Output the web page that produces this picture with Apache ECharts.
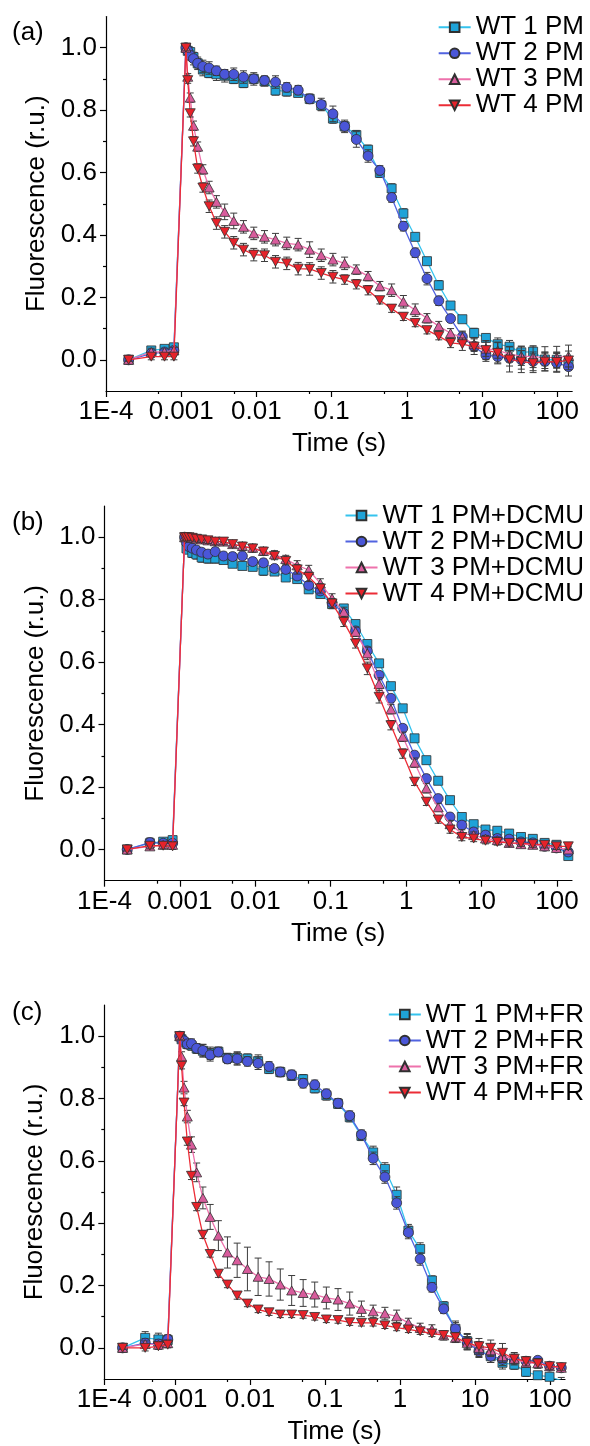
<!DOCTYPE html>
<html><head><meta charset="utf-8">
<script src="https://cdn.jsdelivr.net/npm/echarts@6/dist/echarts.min.js"></script>
<style>html,body{margin:0;padding:0;background:#fff}#c{width:590px;height:1446px}</style>
</head><body><div id="c"></div>
<script>
// ---------- data ----------
const TIME = [0.0002, 0.0004, 0.0006, 0.0008,
  0.001155, 0.001222, 0.001319, 0.001458, 0.001657, 0.001943, 0.002353, 0.002942, 0.003787, 0.004999,
  0.006739, 0.009236, 0.01282, 0.01796, 0.02534, 0.03592, 0.05111, 0.07291, 0.1042, 0.1491,
  0.2135, 0.3059, 0.4386, 0.629, 0.902, 1.294, 1.857, 2.664, 3.822, 5.484,
  7.87, 11.29, 16.2, 23.25, 33.37, 47.88, 68.71, 98.6, 141.5];

const X_TICKS = [1e-4, 1e-3, 0.01, 0.1, 1, 10, 100];
const X_MINOR = [5e-4, 5e-3, 0.05, 0.5, 5, 50];
const Y_TICKS = [0, 0.2, 0.4, 0.6, 0.8, 1.0];
const Y_MINOR = [0.1, 0.3, 0.5, 0.7, 0.9];
const PANEL_LABELS = ['(a)', '(b)', '(c)'];
const X_TITLE = 'Time (s)';
const Y_TITLE = 'Fluorescence (r.u.)';

const NAMES_A = ['WT 1 PM', 'WT 2 PM', 'WT 3 PM', 'WT 4 PM'];
const NAMES_B = ['WT 1 PM+DCMU', 'WT 2 PM+DCMU', 'WT 3 PM+DCMU', 'WT 4 PM+DCMU'];
const NAMES_C = ['WT 1 PM+FR', 'WT 2 PM+FR', 'WT 3 PM+FR', 'WT 4 PM+FR'];

// panel (a)
const A_WT1 = [0, 0.03, 0.035, 0.04,
  1.0, 0.99, 0.986, 0.97, 0.95, 0.93, 0.919, 0.915, 0.91, 0.9, 0.887, 0.9, 0.892, 0.863, 0.86, 0.855, 0.836, 0.815, 0.773, 0.748,
  0.72, 0.673, 0.599, 0.549, 0.469, 0.394, 0.316, 0.239, 0.174, 0.13, 0.086, 0.07, 0.05, 0.042, 0.024, 0.026, 0.001, 0.0, -0.01];
const A_WT2 = [0, 0.02, 0.025, 0.03,
  1.0, 0.99, 0.975, 0.965, 0.95, 0.94, 0.935, 0.926, 0.915, 0.915, 0.906, 0.90, 0.895, 0.89, 0.873, 0.864, 0.836, 0.818, 0.788, 0.748,
  0.706, 0.653, 0.607, 0.52, 0.428, 0.343, 0.26, 0.189, 0.132, 0.074, 0.042, 0.015, 0.01, 0.005, 0.0, -0.005, -0.005, -0.01, -0.022];
const A_WT3 = [0, 0.025, 0.025, 0.03,
  1.0, 0.907, 0.84, 0.75, 0.683, 0.61, 0.552, 0.506, 0.474, 0.445, 0.426, 0.405, 0.394, 0.385, 0.373, 0.369, 0.353, 0.335, 0.321, 0.309,
  0.289, 0.268, 0.236, 0.223, 0.186, 0.159, 0.133, 0.108, 0.085, 0.072, 0.05, 0.036, 0.03, 0.018, 0.012, 0.01, 0.007, 0.008, 0.012];
const A_WT4 = [0, 0.01, 0.01, 0.01,
  1.0, 0.896, 0.79, 0.70, 0.613, 0.552, 0.492, 0.438, 0.41, 0.375, 0.353, 0.337, 0.335, 0.314, 0.309, 0.292, 0.291, 0.278, 0.266, 0.257,
  0.242, 0.223, 0.191, 0.164, 0.138, 0.118, 0.095, 0.076, 0.054, 0.05, 0.042, 0.031, 0.022, 0.001, -0.006, -0.011, -0.006, -0.007, -0.002];
const A_WT1_ERR = [0.005, 0.012, 0.01, 0.01,
  0.01, 0.01, 0.012, 0.015, 0.015, 0.02, 0.015, 0.02, 0.02, 0.015, 0.015, 0.015, 0.015, 0.015, 0.015, 0.012, 0.015, 0.015, 0.015, 0.015,
  0.015, 0.015, 0.015, 0.015, 0.015, 0.012, 0.012, 0.015, 0.01, 0.01, 0.015, 0.012, 0.02, 0.02, 0.02, 0.015, 0.02, 0.025, 0.02];
const A_WT2_ERR = [0.005, 0.012, 0.01, 0.01,
  0.012, 0.012, 0.015, 0.02, 0.02, 0.02, 0.02, 0.015, 0.015, 0.02, 0.02, 0.02, 0.015, 0.02, 0.015, 0.015, 0.015, 0.02, 0.025, 0.02,
  0.025, 0.02, 0.015, 0.015, 0.015, 0.015, 0.02, 0.015, 0.01, 0.015, 0.015, 0.02, 0.02, 0.025, 0.03, 0.03, 0.03, 0.03, 0.03];
const A_WT3_ERR = [0.005, 0.012, 0.01, 0.01,
  0.01, 0.01, 0.015, 0.015, 0.015, 0.015, 0.02, 0.02, 0.025, 0.025, 0.02, 0.02, 0.02, 0.02, 0.02, 0.02, 0.025, 0.02, 0.02, 0.02,
  0.015, 0.015, 0.015, 0.02, 0.02, 0.02, 0.015, 0.015, 0.015, 0.02, 0.02, 0.025, 0.025, 0.025, 0.03, 0.035, 0.035, 0.035, 0.035];
const A_WT4_ERR = [0.005, 0.01, 0.01, 0.01,
  0.01, 0.01, 0.012, 0.015, 0.015, 0.015, 0.02, 0.02, 0.02, 0.02, 0.02, 0.02, 0.02, 0.02, 0.02, 0.02, 0.02, 0.02, 0.02, 0.015,
  0.015, 0.015, 0.012, 0.012, 0.012, 0.012, 0.012, 0.012, 0.015, 0.02, 0.025, 0.03, 0.035, 0.04, 0.035, 0.03, 0.03, 0.03, 0.03];

// panel (b)
const B_WT1 = [0, 0.02, 0.025, 0.03,
  1.0, 0.964, 0.96, 0.95, 0.945, 0.935, 0.932, 0.932, 0.927, 0.915, 0.908, 0.905, 0.893, 0.89, 0.871, 0.866, 0.833, 0.818, 0.786, 0.772,
  0.722, 0.658, 0.596, 0.523, 0.452, 0.356, 0.286, 0.22, 0.158, 0.104, 0.081, 0.064, 0.06, 0.051, 0.04, 0.034, 0.021, 0.015, -0.021];
const B_WT2 = [0, 0.022, 0.02, 0.02,
  1.0, 0.983, 0.97, 0.965, 0.959, 0.952, 0.946, 0.954, 0.94, 0.938, 0.94, 0.922, 0.918, 0.90, 0.897, 0.876, 0.846, 0.828, 0.79, 0.756,
  0.70, 0.636, 0.558, 0.484, 0.388, 0.302, 0.227, 0.163, 0.104, 0.078, 0.056, 0.046, 0.035, 0.033, 0.024, 0.021, 0.01, 0.005, -0.008];
const B_WT3 = [0, 0.01, 0.015, 0.015,
  1.0, 1.0, 1.0, 0.998, 0.995, 0.993, 0.99, 0.987, 0.986, 0.978, 0.972, 0.966, 0.956, 0.945, 0.93, 0.91, 0.895, 0.852, 0.804, 0.761,
  0.697, 0.628, 0.53, 0.449, 0.361, 0.278, 0.196, 0.135, 0.081, 0.051, 0.046, 0.035, 0.03, 0.021, 0.017, 0.015, 0.01, 0.005, 0.0];
const B_WT4 = [0, 0.012, 0.012, 0.01,
  1.0, 1.0, 1.0, 0.998, 0.995, 0.993, 0.99, 0.986, 0.986, 0.978, 0.97, 0.964, 0.954, 0.94, 0.924, 0.897, 0.873, 0.836, 0.788, 0.729,
  0.66, 0.58, 0.489, 0.398, 0.307, 0.217, 0.153, 0.096, 0.064, 0.04, 0.035, 0.028, 0.024, 0.021, 0.02, 0.017, 0.015, 0.01, 0.01];
const B_WT1_ERR = [0.005, 0.015, 0.01, 0.012,
  0.01, 0.01, 0.012, 0.015, 0.015, 0.015, 0.015, 0.015, 0.012, 0.012, 0.012, 0.012, 0.015, 0.012, 0.012, 0.012, 0.012, 0.012, 0.015, 0.012,
  0.012, 0.012, 0.012, 0.012, 0.012, 0.012, 0.012, 0.012, 0.012, 0.012, 0.012, 0.012, 0.012, 0.012, 0.012, 0.012, 0.012, 0.012, 0.012];
const B_WT2_ERR = [0.005, 0.015, 0.01, 0.01,
  0.01, 0.01, 0.012, 0.012, 0.012, 0.012, 0.012, 0.012, 0.012, 0.012, 0.012, 0.012, 0.012, 0.012, 0.012, 0.012, 0.012, 0.012, 0.012, 0.012,
  0.012, 0.012, 0.012, 0.012, 0.012, 0.012, 0.012, 0.012, 0.012, 0.012, 0.012, 0.012, 0.012, 0.012, 0.012, 0.012, 0.012, 0.012, 0.012];
const B_WT3_ERR = [0.005, 0.01, 0.01, 0.01,
  0.01, 0.01, 0.01, 0.01, 0.01, 0.01, 0.01, 0.01, 0.01, 0.01, 0.012, 0.012, 0.012, 0.012, 0.012, 0.015, 0.015, 0.015, 0.015, 0.015,
  0.015, 0.02, 0.02, 0.015, 0.015, 0.015, 0.015, 0.012, 0.012, 0.012, 0.01, 0.01, 0.01, 0.01, 0.01, 0.01, 0.01, 0.01, 0.01];
const B_WT4_ERR = [0.005, 0.01, 0.01, 0.01,
  0.01, 0.01, 0.01, 0.01, 0.01, 0.01, 0.01, 0.01, 0.01, 0.01, 0.012, 0.012, 0.012, 0.012, 0.012, 0.015, 0.015, 0.015, 0.015, 0.015,
  0.015, 0.02, 0.02, 0.015, 0.015, 0.012, 0.012, 0.012, 0.012, 0.012, 0.01, 0.01, 0.01, 0.01, 0.01, 0.01, 0.01, 0.01, 0.01];

// panel (c)
const C_WT1 = [0, 0.032, 0.027, 0.025,
  1.0, 0.99, 0.98, 0.975, 0.97, 0.96, 0.953, 0.945, 0.95, 0.93, 0.93, 0.928, 0.92, 0.895, 0.885, 0.873, 0.862, 0.833, 0.81, 0.783,
  0.74, 0.68, 0.627, 0.574, 0.491, 0.376, 0.317, 0.216, 0.133, 0.061, 0.021, -0.008, -0.027, -0.048, -0.054, -0.077, -0.088, -0.093, -0.105];
const C_WT2 = [0, 0.015, 0.012, 0.027,
  1.0, 0.99, 0.985, 0.975, 0.976, 0.961, 0.954, 0.94, 0.949, 0.927, 0.927, 0.919, 0.913, 0.903, 0.885, 0.876, 0.849, 0.844, 0.815, 0.785,
  0.745, 0.684, 0.608, 0.548, 0.465, 0.37, 0.285, 0.194, 0.125, 0.061, 0.018, -0.011, -0.027, -0.037, -0.037, -0.043, -0.04, -0.059, -0.064];
const C_WT3 = [0, 0.012, 0.01, 0.015,
  1.0, 0.935, 0.835, 0.742, 0.652, 0.563, 0.481, 0.42, 0.36, 0.306, 0.281, 0.253, 0.228, 0.221, 0.203, 0.184, 0.176, 0.171, 0.16, 0.155,
  0.142, 0.125, 0.117, 0.11, 0.101, 0.08, 0.064, 0.059, 0.04, 0.032, 0.016, 0.0, -0.008, -0.027, -0.035, -0.048, -0.05, -0.059, -0.064];
const C_WT4 = [0, 0.0, 0.005, 0.01,
  1.0, 0.905, 0.787, 0.662, 0.552, 0.452, 0.363, 0.301, 0.238, 0.203, 0.168, 0.142, 0.123, 0.114, 0.107, 0.107, 0.105, 0.099, 0.091, 0.089,
  0.082, 0.08, 0.08, 0.072, 0.065, 0.059, 0.053, 0.046, 0.041, 0.034, 0.016, 0.005, 0.0, -0.016, -0.035, -0.043, -0.05, -0.059, -0.062];
const C_WT1_ERR = [0.005, 0.02, 0.02, 0.015,
  0.008, 0.01, 0.012, 0.015, 0.015, 0.015, 0.02, 0.02, 0.015, 0.015, 0.02, 0.015, 0.02, 0.015, 0.015, 0.015, 0.015, 0.015, 0.015, 0.015,
  0.015, 0.015, 0.02, 0.02, 0.025, 0.02, 0.02, 0.015, 0.015, 0.02, 0.025, 0.02, 0.02, 0.02, 0.015, 0.015, 0.01, 0.01, 0.01];
const C_WT2_ERR = [0.005, 0.015, 0.015, 0.015,
  0.008, 0.01, 0.012, 0.015, 0.015, 0.015, 0.02, 0.02, 0.015, 0.015, 0.02, 0.015, 0.02, 0.015, 0.015, 0.015, 0.015, 0.015, 0.015, 0.015,
  0.015, 0.015, 0.02, 0.02, 0.02, 0.02, 0.02, 0.015, 0.015, 0.025, 0.025, 0.02, 0.02, 0.02, 0.015, 0.015, 0.01, 0.01, 0.01];
const C_WT3_ERR = [0.005, 0.01, 0.01, 0.01,
  0.01, 0.015, 0.02, 0.02, 0.025, 0.03, 0.035, 0.04, 0.048, 0.05, 0.055, 0.07, 0.06, 0.055, 0.05, 0.048, 0.043, 0.04, 0.035, 0.035,
  0.037, 0.025, 0.02, 0.02, 0.02, 0.015, 0.015, 0.015, 0.015, 0.015, 0.02, 0.02, 0.02, 0.02, 0.015, 0.015, 0.015, 0.01, 0.01];
const C_WT4_ERR = [0.005, 0.01, 0.01, 0.01,
  0.01, 0.01, 0.01, 0.012, 0.012, 0.012, 0.012, 0.01, 0.012, 0.01, 0.012, 0.01, 0.01, 0.01, 0.01, 0.01, 0.01, 0.01, 0.01, 0.01,
  0.01, 0.01, 0.01, 0.01, 0.01, 0.01, 0.01, 0.01, 0.01, 0.015, 0.02, 0.025, 0.025, 0.03, 0.02, 0.015, 0.015, 0.01, 0.01];

// ---------- styling / layout ----------
const FONT = "'Liberation Sans', Arial, Helvetica, sans-serif";
const LINE_COLORS = ['#35c3ee', '#5163e0', '#ee72ac', '#ec2c36'];
const FILL_COLORS = ['#1fa3d8', '#4a56d8', '#d85c9c', '#e6222a'];
const SYMBOLS = ['rect', 'circle', 'triangle', 'path://M0,0 L20,0 L10,17.3 Z'];
const SYMBOL_SIZES = [9, 10, [10, 9], [10, 9]];

const PANELS = [
  { names: NAMES_A, vals: [A_WT1, A_WT2, A_WT3, A_WT4], errs: [A_WT1_ERR, A_WT2_ERR, A_WT3_ERR, A_WT4_ERR],
    grid: { left: 106, top: 16.5, width: 466.2, height: 374.5 }, xmin: 1e-4, xmax: 158.5, legendTop: 14.3, labelTop: 20 },
  { names: NAMES_B, vals: [B_WT1, B_WT2, B_WT3, B_WT4], errs: [B_WT1_ERR, B_WT2_ERR, B_WT3_ERR, B_WT4_ERR],
    grid: { left: 104.5, top: 506, width: 467.5, height: 374.7 }, xmin: 1e-4, xmax: 158.5, legendTop: 502.5, labelTop: 510 },
  { names: NAMES_C, vals: [C_WT1, C_WT2, C_WT3, C_WT4], errs: [C_WT1_ERR, C_WT2_ERR, C_WT3_ERR, C_WT4_ERR],
    grid: { left: 104.3, top: 1005, width: 460.7, height: 374.7 }, xmin: 1.14e-4, xmax: 158.5, legendTop: 1001.5, labelTop: 1000 }
];

function errRender(params, api) {
  const x = api.value(0), y = api.value(1), e = api.value(2);
  const p1 = api.coord([x, y + e]);
  const p2 = api.coord([x, y - e]);
  const w = 3.5;
  const style = { stroke: '#3c3c3c', lineWidth: 1, fill: null };
  return {
    type: 'group', children: [
      { type: 'line', shape: { x1: p1[0], y1: p1[1], x2: p2[0], y2: p2[1] }, style },
      { type: 'line', shape: { x1: p1[0] - w, y1: p1[1], x2: p1[0] + w, y2: p1[1] }, style },
      { type: 'line', shape: { x1: p2[0] - w, y1: p2[1], x2: p2[0] + w, y2: p2[1] }, style }
    ]
  };
}

const grids = [], xAxes = [], yAxes = [], series = [], legends = [], titles = [];
const axisCommon = { axisLine: { onZero: false, lineStyle: { color: '#000', width: 1.2 } }, splitLine: { show: false } };

PANELS.forEach((p, pi) => {
  grids.push(Object.assign({ containLabel: false }, p.grid));
  const xTicks = X_TICKS.map(v => Math.max(v, p.xmin * 1.0001)).filter(v => v <= p.xmax);
  xAxes.push(Object.assign({}, axisCommon, {
    type: 'log', logBase: 10, gridIndex: pi, min: p.xmin, max: p.xmax, position: 'bottom',
    axisTick: { length: 6, lineStyle: { color: '#000', width: 1.2 }, customValues: xTicks },
    axisLabel: { customValues: xTicks, fontSize: 26, color: '#000', fontFamily: FONT, margin: 8,
      formatter: v => (v < 5e-4 ? '1E-4' : String(+(+v).toPrecision(3))) },
    name: X_TITLE, nameLocation: 'middle', nameGap: 40,
    nameTextStyle: { fontSize: 26, color: '#000', fontFamily: FONT }
  }));
  xAxes.push({
    type: 'log', logBase: 10, gridIndex: pi, min: p.xmin, max: p.xmax, position: 'bottom',
    axisLine: { show: false, onZero: false }, splitLine: { show: false },
    axisTick: { length: 3, lineStyle: { color: '#000', width: 1.2 }, customValues: X_MINOR },
    axisLabel: { show: false }
  });
  yAxes.push(Object.assign({}, axisCommon, {
    type: 'value', gridIndex: pi, min: -0.1, max: 1.1, interval: 0.1, position: 'left',
    axisTick: { length: 6, lineStyle: { color: '#000', width: 1.2 }, customValues: Y_TICKS },
    axisLabel: { customValues: Y_TICKS, fontSize: 26, color: '#000', fontFamily: FONT, margin: 9,
      formatter: v => (+v).toFixed(1) },
    name: Y_TITLE, nameLocation: 'middle', nameGap: 44,
    nameTextStyle: { fontSize: 26, color: '#000', fontFamily: FONT }
  }));
  yAxes.push({
    type: 'value', gridIndex: pi, min: -0.1, max: 1.1, interval: 0.1, position: 'left',
    axisLine: { show: false, onZero: false }, splitLine: { show: false },
    axisTick: { length: 3, lineStyle: { color: '#000', width: 1.2 }, customValues: Y_MINOR },
    axisLabel: { show: false }
  });

  p.vals.forEach((vals, si) => {
    const errs = p.errs[si];
    series.push({
      type: 'custom', xAxisIndex: 2 * pi, yAxisIndex: 2 * pi, z: 2 + si * 2, silent: true, clip: true,
      renderItem: errRender, encode: { x: 0, y: 1 },
      data: TIME.map((t, i) => [t, vals[i], errs[i]])
    });
    series.push({
      type: 'line', name: p.names[si], xAxisIndex: 2 * pi, yAxisIndex: 2 * pi, z: 3 + si * 2,
      symbol: SYMBOLS[si], symbolSize: SYMBOL_SIZES[si], showSymbol: true, showAllSymbol: true, clip: true,
      lineStyle: { color: LINE_COLORS[si], width: 1.3 },
      itemStyle: { color: FILL_COLORS[si], borderColor: '#303030', borderWidth: 0.8 },
      emphasis: { disabled: true },
      data: TIME.map((t, i) => [t, vals[i]])
    });
  });

  legends.push({
    data: p.names, orient: 'vertical', right: 6, top: p.legendTop, itemGap: 0, padding: 0,
    itemWidth: 32, itemHeight: 12, selectedMode: false,
    textStyle: { fontSize: 26, lineHeight: 21.5, color: '#000', fontFamily: FONT }
  });
  titles.push({
    text: PANEL_LABELS[pi], left: 12, top: p.labelTop, padding: 0,
    textStyle: { fontSize: 26, fontWeight: 'normal', color: '#000', fontFamily: FONT }
  });
});

const chart = echarts.init(document.getElementById('c'), null, { renderer: 'canvas' });
chart.setOption({
  animation: false, backgroundColor: '#fff',
  title: titles, legend: legends, grid: grids, xAxis: xAxes, yAxis: yAxes, series: series
});
</script></body></html>
